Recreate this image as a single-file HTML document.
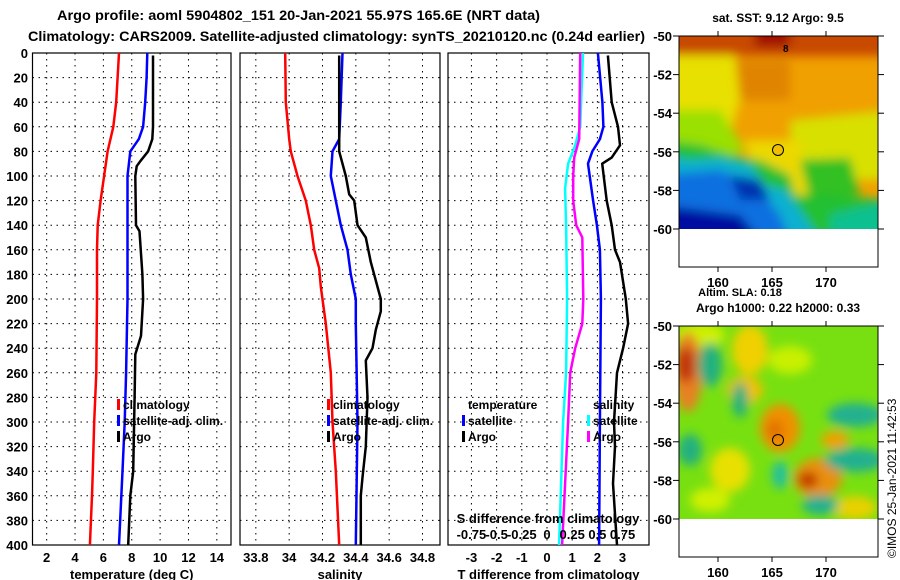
<!DOCTYPE html>
<html><head><meta charset="utf-8">
<style>
body{margin:0;background:#fff;}
svg{display:block;font-family:"Liberation Sans",sans-serif;font-weight:bold;}
</style></head>
<body>
<svg id="chart" width="900" height="580" viewBox="0 0 900 580">
<defs>
<filter id="blur" x="-10%" y="-10%" width="120%" height="120%"><feGaussianBlur stdDeviation="5"/></filter>
<clipPath id="clipTop"><rect x="679" y="36" width="199" height="193"/></clipPath>
<clipPath id="clipBot"><rect x="679" y="326" width="199" height="193"/></clipPath>
</defs>
<text x="57" y="20" font-size="14" textLength="483" lengthAdjust="spacingAndGlyphs">Argo profile: aoml 5904802_151 20-Jan-2021 55.97S 165.6E (NRT data)</text>
<text x="28" y="41" font-size="14" textLength="617" lengthAdjust="spacingAndGlyphs">Climatology: CARS2009. Satellite-adjusted climatology: synTS_20210120.nc (0.24d earlier)</text>
<g id="panels"></g>

<!-- Top map: SST -->
<g>
<text x="778" y="22" font-size="12" text-anchor="middle">sat. SST: 9.12 Argo: 9.5</text>
<g clip-path="url(#clipTop)">
<rect x="679" y="36" width="199" height="193" fill="#f0a000"/>
<g filter="url(#blur)">
<rect x="660" y="20" width="240" height="36" fill="#c84800"/>
<rect x="755" y="25" width="35" height="22" fill="#a01000"/>
<rect x="720" y="60" width="70" height="40" fill="#e08400"/>
<path d="M660 55 L735 55 L740 100 L730 135 L660 135Z" fill="#e8e000"/>
<path d="M790 120 L890 110 L890 180 L790 180Z" fill="#d8e000"/>
<path d="M745 140 L800 140 L810 205 L760 205Z" fill="#ecd800"/>
<path d="M660 110 L720 110 L745 150 L720 160 L660 160Z" fill="#9ae000"/>
<path d="M800 160 L850 158 L860 195 L810 200Z" fill="#30c020"/>
<path d="M660 140 L700 145 L730 155 L760 160 L790 175 L795 195 L830 195 L890 200 L890 240 L660 240Z" fill="#20c030"/>
<path d="M660 155 L690 160 L720 158 L750 165 L765 185 L785 190 L800 210 L820 240 L660 240Z" fill="#10b0d0"/>
<path d="M660 175 L720 170 L760 190 L780 215 L790 240 L660 240Z" fill="#1070e0"/>
<path d="M730 175 L760 180 L770 200 L740 200Z" fill="#0030b0"/>
<path d="M660 205 L740 215 L760 240 L660 240Z" fill="#0010a0"/>
<path d="M830 215 L890 200 L890 240 L830 240Z" fill="#10c090"/>
</g>
</g>
<rect x="679" y="36" width="199" height="231" fill="none" stroke="#000" stroke-width="1"/>
<circle cx="778" cy="150" r="5.5" fill="#f0c000" stroke="#000" stroke-width="1"/>
<text x="783" y="52" font-size="10">8</text>
</g>

<!-- Bottom map: SLA -->
<g>
<text x="740" y="296" font-size="11" text-anchor="middle">Altim. SLA: 0.18</text>
<text x="778" y="312" font-size="12" text-anchor="middle">Argo h1000: 0.22 h2000: 0.33</text>
<g clip-path="url(#clipBot)">
<rect x="679" y="326" width="199" height="193" fill="#78e010"/>
<g filter="url(#blur)">
<ellipse cx="700" cy="335" rx="25" ry="12" fill="#d0f000"/>
<ellipse cx="750" cy="350" rx="18" ry="25" fill="#f0d000"/>
<ellipse cx="745" cy="390" rx="18" ry="14" fill="#f0c000"/>
<ellipse cx="790" cy="360" rx="22" ry="14" fill="#c8f000"/>
<ellipse cx="688" cy="372" rx="14" ry="40" fill="#e88020"/>
<ellipse cx="686" cy="365" rx="9" ry="18" fill="#c03010"/>
<ellipse cx="780" cy="428" rx="20" ry="24" fill="#f09000"/>
<ellipse cx="775" cy="430" rx="8" ry="10" fill="#e07000"/>
<ellipse cx="818" cy="478" rx="24" ry="20" fill="#e89010"/>
<ellipse cx="808" cy="480" rx="10" ry="8" fill="#c03000"/>
<ellipse cx="835" cy="440" rx="14" ry="9" fill="#f0a000"/>
<ellipse cx="730" cy="470" rx="20" ry="22" fill="#e8e000"/>
<ellipse cx="855" cy="508" rx="22" ry="12" fill="#e8d000"/>
<ellipse cx="710" cy="500" rx="20" ry="12" fill="#d0f000"/>
<ellipse cx="710" cy="365" rx="12" ry="22" fill="#20b080"/>
<ellipse cx="740" cy="400" rx="8" ry="18" fill="#20b080"/>
<ellipse cx="690" cy="450" rx="12" ry="16" fill="#20b080"/>
<ellipse cx="780" cy="475" rx="8" ry="14" fill="#20c0a0"/>
<ellipse cx="855" cy="415" rx="28" ry="12" fill="#20b090"/>
<ellipse cx="855" cy="460" rx="30" ry="12" fill="#20b090"/>
<ellipse cx="820" cy="505" rx="18" ry="10" fill="#20b090"/>
</g>
</g>
<rect x="679" y="326" width="199" height="231" fill="none" stroke="#000" stroke-width="1"/>
<circle cx="778" cy="440" r="5.5" fill="none" stroke="#000" stroke-width="1"/>
<text font-size="12" font-weight="normal" transform="rotate(-90 892 558)"><tspan x="892" y="562">©IMOS 25-Jan-2021 11:42:53</tspan></text>
</g>
<g id="mapaxes"></g>
</svg>
<script>
// ---------- data ----------
const depthTicks = [0,20,40,60,80,100,120,140,160,180,200,220,240,260,280,300,320,340,360,380,400];
const tempTicks = [2,4,6,8,10,12,14];
const salTicks = [33.8,34,34.2,34.4,34.6,34.8];
const dTTicks = [-3,-2,-1,0,1,2,3];
const dSTickLabels = ["-0.75","-0.5","-0.25","0","0.25","0.5","0.75"];

const tClimDepth = [0,20,40,60,80,100,120,140,160,200,260,300,340,360,400];
const tClim = [7.1,7.0,6.9,6.7,6.3,6.05,5.8,5.6,5.55,5.55,5.5,5.35,5.25,5.2,5.05];
const tSatDepth = [0,20,40,60,70,80,100,140,200,260,300,340,400];
const tSat = [9.1,9.05,8.95,8.8,8.5,7.9,7.7,7.7,7.7,7.6,7.5,7.35,7.1];
const tArgoDepth = [2,40,60,70,80,88,92,100,140,145,180,200,230,245,280,340,360,400];
const tArgo = [9.5,9.5,9.5,9.45,9.15,8.6,8.35,8.25,8.3,8.55,8.75,8.8,8.65,8.25,8.2,8.1,7.9,7.75];

const sClimDepth = [0,40,70,80,100,120,140,160,175,190,220,260,300,340,400];
const sClim = [33.976,33.98,34.0,34.01,34.05,34.1,34.13,34.15,34.18,34.19,34.22,34.25,34.26,34.28,34.3];
const sSatDepth = [0,40,70,80,100,120,140,160,180,200,220,300,400];
const sSat = [34.32,34.31,34.3,34.26,34.25,34.28,34.31,34.35,34.37,34.4,34.4,34.41,34.4];
const sArgoDepth = [2,80,100,115,120,140,150,170,185,200,210,225,240,250,280,320,345,360,400];
const sArgo = [34.3,34.3,34.34,34.36,34.39,34.41,34.46,34.49,34.52,34.55,34.55,34.52,34.5,34.46,34.47,34.46,34.44,34.43,34.43];

const dTSatDepth = [0,40,60,70,80,90,120,140,160,200,300,400];
const dTSat = [2.02,2.2,2.24,2.1,1.8,1.63,1.83,1.98,2.1,2.14,2.1,2.07];
const dTArgoDepth = [2,40,60,75,85,90,120,140,160,170,200,220,240,260,300,320,350,400];
const dTArgo = [2.42,2.57,2.82,2.9,2.57,2.19,2.37,2.57,2.7,2.9,3.13,3.22,3.02,2.78,2.66,2.7,2.62,2.78];
const dSSatDepth = [0,60,75,90,110,140,200,260,300,400];
const dSSat = [0.357,0.33,0.28,0.21,0.18,0.19,0.2,0.19,0.16,0.12];
const dSArgoDepth = [0,70,85,100,120,140,150,200,220,240,260,300,400];
const dSArgo = [0.33,0.32,0.27,0.26,0.26,0.29,0.35,0.36,0.35,0.28,0.23,0.21,0.15];

const mapLatTicks = [-50,-52,-54,-56,-58,-60];
const mapLonTicks = [160,165,170];

// ---------- helpers ----------
const NS = "http://www.w3.org/2000/svg";
const root = document.getElementById('panels');
function mk(tag, attrs, parent){const e=document.createElementNS(NS,tag);for(const k in attrs)e.setAttribute(k,attrs[k]);(parent||root).appendChild(e);return e;}
const Y0=53, Y1=545;
function yD(d){return Y0+(d/400)*(Y1-Y0);}

function panel(x0,x1,dom,ticks,labels,xlabel,name){
  const g=mk('g',{});
  
  
  const sx=v=>x0+(v-dom[0])/(dom[1]-dom[0])*(x1-x0);
  depthTicks.forEach(d=>{
    if(d>0&&d<400){const l=mk('line',{x1:x0,x2:x1,y1:yD(d),y2:yD(d),stroke:'#000','stroke-dasharray':'1.5,4.5','stroke-width':1},g);
      
      }
  });
  ticks.forEach((t,i)=>{
    const x=sx(t);
    const l=mk('line',{x1:x,x2:x,y1:Y0,y2:Y1,stroke:'#000','stroke-dasharray':'1.5,4.5','stroke-width':1},g);
    
    
    if(labels){const tx=mk('text',{x:x,y:562,'font-size':13,'text-anchor':'middle'},g);tx.textContent=labels[i];
      
      }
  });
  const r=mk('rect',{x:x0,y:Y0,width:x1-x0,height:Y1-Y0,fill:'none',stroke:'#000','stroke-width':1.2},g);
  
  
  const xl=mk('text',{x:(x0+x1)/2,y:579,'font-size':13,'text-anchor':'middle'},g);
  xl.textContent=xlabel;
  
  
  return {g,sx};
}
function line(p,depths,vals,color,name,scale){
  const pts=depths.map((d,i)=>p.sx(vals[i]*(scale||1)).toFixed(1)+','+yD(d).toFixed(1)).join(' ');
  const pl=mk('polyline',{points:pts,fill:'none',stroke:color,'stroke-width':2.5,'stroke-linejoin':'round'},p.g);
  
  
}
function legend(p,x,y,items){
  items.forEach((it,i)=>{
    const yy=y+i*16;
    if(it[1]){const m=mk('rect',{x:x,y:yy-10,width:3,height:11,fill:it[1]},p.g);
      
      }
    const t=mk('text',{x:x+6,y:yy,'font-size':12},p.g);t.textContent=it[0];
    
    
  });
}

depthTicks.forEach(d=>{
  const t=mk('text',{x:28,y:yD(d)+5,'font-size':13,'text-anchor':'end'});
  t.textContent=d;
  
  
});

const p1=panel(32.5,231,[1,15],tempTicks,tempTicks.map(String),'temperature (deg C)','temperature-panel');
line(p1,tClimDepth,tClim,'#ff0000','temp-climatology-line');
line(p1,tSatDepth,tSat,'#0000ff','temp-satellite-line');
line(p1,tArgoDepth,tArgo,'#000000','temp-argo-line');
legend(p1,117,409,[['climatology','#ff0000'],['satellite-adj. clim.','#0000ff'],['Argo','#000']]);

const p2=panel(240,440,[33.705,34.905],salTicks,salTicks.map(String),'salinity','salinity-panel');
line(p2,sClimDepth,sClim,'#ff0000','sal-climatology-line');
line(p2,sSatDepth,sSat,'#0000ff','sal-satellite-line');
line(p2,sArgoDepth,sArgo,'#000000','sal-argo-line');
legend(p2,327,409,[['climatology','#ff0000'],['satellite-adj. clim.','#0000ff'],['Argo','#000']]);

const p3=panel(448,649,[-3.93,4.05],dTTicks,dTTicks.map(String),'T difference from climatology','difference-panel');
line(p3,dSSatDepth,dSSat,'#00ffff','sal-diff-satellite-line',4);
line(p3,dSArgoDepth,dSArgo,'#ff00ff','sal-diff-argo-line',4);
line(p3,dTSatDepth,dTSat,'#0000ff','temp-diff-satellite-line');
line(p3,dTArgoDepth,dTArgo,'#000000','temp-diff-argo-line');
legend(p3,462,409,[['temperature',null],['satellite','#0000ff'],['Argo','#000']]);
legend(p3,587,409,[['salinity',null],['satellite','#00ffff'],['Argo','#ff00ff']]);
{
  const t=mk('text',{x:548,y:523,'font-size':13,'text-anchor':'middle'},p3.g);
  t.textContent='S difference from climatology';
  
  
  [-0.75,-0.5,-0.25,0,0.25,0.5,0.75].forEach((v,i)=>{
    const tx=mk('text',{x:p3.sx(v*4),y:539,'font-size':13,'text-anchor':'middle'},p3.g);
    tx.textContent=dSTickLabels[i];
    
    
  });
}

const ma=document.getElementById('mapaxes');
[[36,229,267],[326,519,557]].forEach(([ya,yb,ybox],mi)=>{
  mapLatTicks.forEach(lat=>{
    const y=ya+(-50-lat)/10*(yb-ya);
    mk('line',{x1:673,x2:679,y1:y,y2:y,stroke:'#000'},ma);
    mk('line',{x1:878,x2:884,y1:y,y2:y,stroke:'#000'},ma);
    const t=mk('text',{x:672,y:y+5,'font-size':13,'text-anchor':'end'},ma);
    t.textContent=lat;
    
    
  });
  mapLonTicks.forEach(lon=>{
    const x=718+(lon-160)*10.8;
    mk('line',{x1:x,x2:x,y1:ya-5,y2:ya,stroke:'#000'},ma);
    mk('line',{x1:x,x2:x,y1:ybox,y2:ybox+5,stroke:'#000'},ma);
    const t=mk('text',{x:x,y:ybox+20,'font-size':13,'text-anchor':'middle'},ma);
    t.textContent=lon;
    
    
  });
});
</script>
</body></html>
